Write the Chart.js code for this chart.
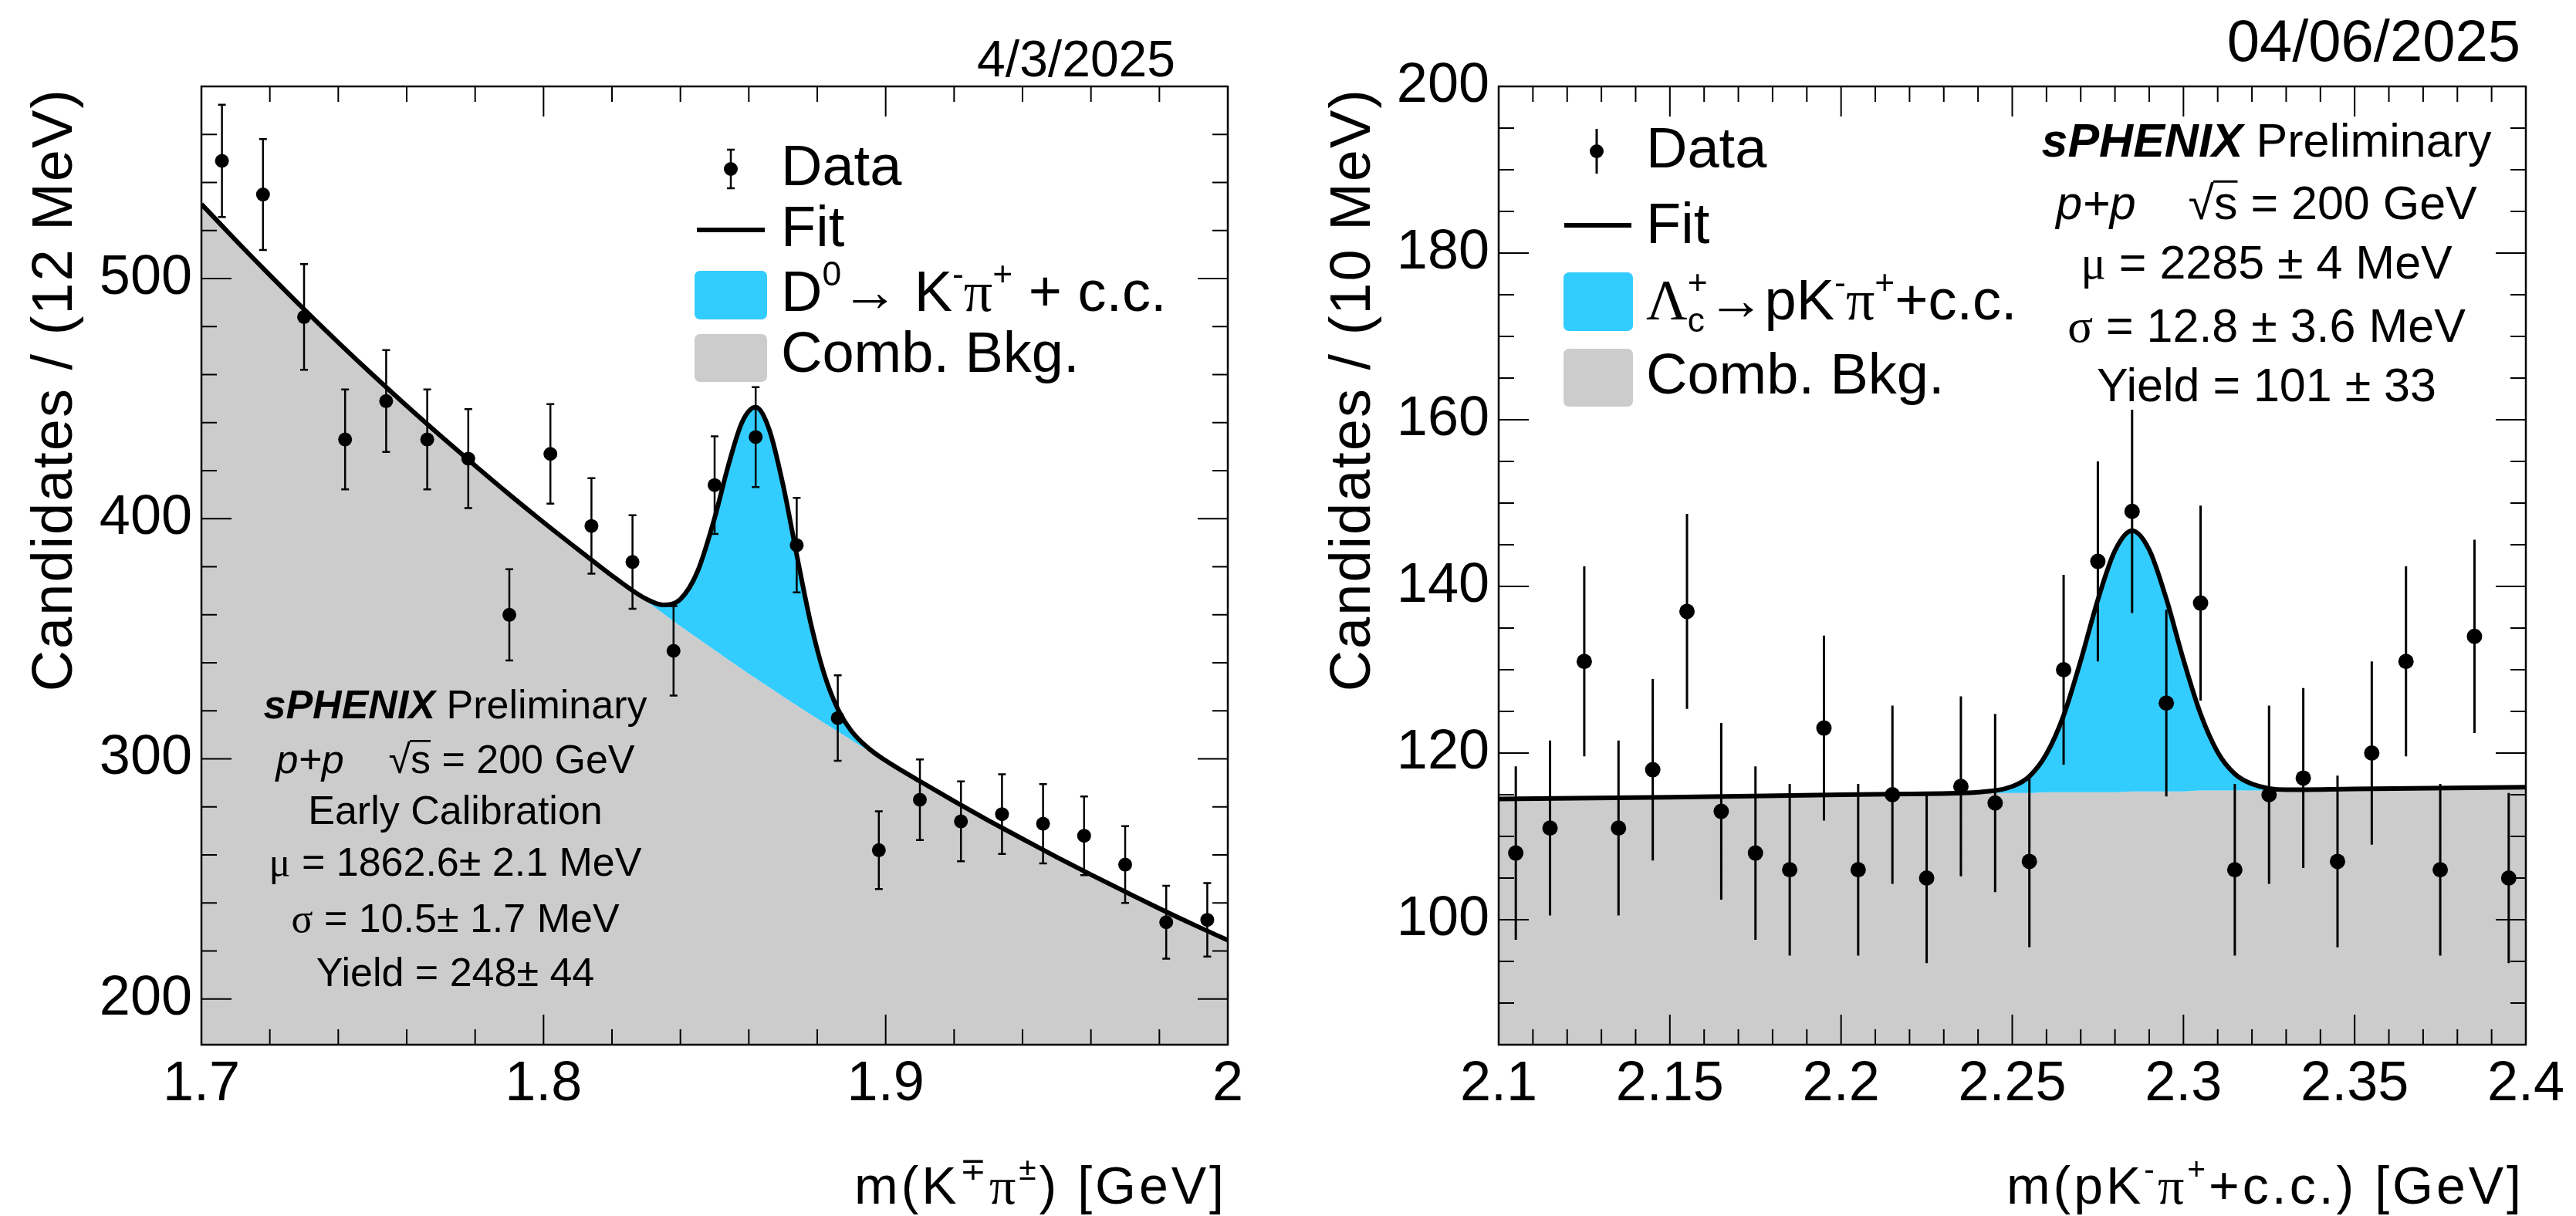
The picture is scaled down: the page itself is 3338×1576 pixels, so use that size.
<!DOCTYPE html>
<html>
<head>
<meta charset="utf-8">
<script src="https://cdn.jsdelivr.net/npm/chart.js@4.4.1/dist/chart.umd.min.js"></script>
<style>
  html, body { margin: 0; padding: 0; background: #fff; }
  #wrap { position: relative; width: 3338px; height: 1576px; overflow: hidden; }
  canvas { position: absolute; top: 0; }
  #left { left: 0; }
  #right { left: 1669px; }
</style>
</head>
<body>
<div id="wrap">
  <canvas id="left" width="1669" height="1576"></canvas>
  <canvas id="right" width="1669" height="1576"></canvas>
</div>
<script>
// ---- D0 panel (left), 12 MeV bins ----
const d0BinCenters = [1.706, 1.718, 1.730, 1.742, 1.754, 1.766, 1.778, 1.790, 1.802, 1.814, 1.826, 1.838, 1.850,
  1.862, 1.874, 1.886, 1.898, 1.910, 1.922, 1.934, 1.946, 1.958, 1.970, 1.982, 1.994];
const d0Counts = [549, 535, 484, 433, 449, 433, 425, 360, 427, 397, 382, 345, 414,
  434, 389, 317, 262, 283, 274, 277, 273, 268, 256, 232, 233];
const d0Errors = [23.4, 23.1, 22.0, 20.8, 21.2, 20.8, 20.6, 19.0, 20.7, 19.9, 19.5, 18.6, 20.3,
  20.8, 19.7, 17.8, 16.2, 16.8, 16.6, 16.6, 16.5, 16.4, 16.0, 15.2, 15.3];
// fit curve
const d0FitX = [1.700, 1.710, 1.720, 1.730, 1.740, 1.750, 1.760, 1.770, 1.780, 1.790, 1.800, 1.810, 1.820,
  1.825, 1.830, 1.835, 1.840, 1.845, 1.850, 1.854, 1.858, 1.862, 1.866, 1.870, 1.874, 1.878, 1.882, 1.886,
  1.890, 1.895, 1.900, 1.910, 1.920, 1.930, 1.940, 1.950, 1.960, 1.970, 1.980, 1.990, 2.000];
const d0FitBkg = [531.0, 516.0, 501.4, 487.2, 473.4, 460.0, 447.0, 434.4, 422.1, 410.1, 398.5, 387.3, 376.3,
  370.9, 365.7, 360.5, 355.3, 350.3, 345.3, 341.3, 337.4, 333.6, 329.8, 326.0, 322.3, 318.6, 315.0, 311.4,
  307.8, 303.4, 299.1, 290.7, 282.4, 274.4, 266.7, 259.1, 251.8, 244.7, 237.7, 231.0, 224.5];
const d0FitTotal = [531.0, 516.0, 501.4, 487.2, 473.4, 460.0, 447.0, 434.4, 422.1, 410.1, 398.5, 387.3, 376.3,
  371.1, 366.6, 364.1, 366.5, 378.0, 400.3, 422.1, 440.1, 446.4, 437.0, 414.1, 385.0, 357.1, 335.5, 320.8,
  311.6, 304.4, 299.3, 290.7, 282.4, 274.4, 266.7, 259.1, 251.8, 244.7, 237.7, 231.0, 224.5];
const d0XLabels = [1.7, 1.8, 1.9, 2.0];
const d0YLabels = [200, 300, 400, 500];

// ---- Lambda_c panel (right), 10 MeV bins ----
const lcBinCenters = [2.105, 2.115, 2.125, 2.135, 2.145, 2.155, 2.165, 2.175, 2.185, 2.195, 2.205, 2.215, 2.225,
  2.235, 2.245, 2.255, 2.265, 2.275, 2.285, 2.295, 2.305, 2.315, 2.325, 2.335, 2.345, 2.355, 2.365, 2.375,
  2.385, 2.395];
const lcCounts = [108, 111, 131, 111, 118, 137, 113, 108, 106, 123, 106, 115, 105,
  116, 114, 107, 130, 143, 149, 126, 138, 106, 115, 117, 107, 120, 131, 106, 134, 105];
const lcErrors = [10.4, 10.5, 11.4, 10.5, 10.9, 11.7, 10.6, 10.4, 10.3, 11.1, 10.3, 10.7, 10.2,
  10.8, 10.7, 10.3, 11.4, 12.0, 12.2, 11.2, 11.7, 10.3, 10.7, 10.8, 10.3, 11.0, 11.4, 10.3, 11.6, 10.2];
const lcFitX = [2.100, 2.150, 2.200, 2.220, 2.240, 2.250, 2.255, 2.260, 2.265, 2.270, 2.275, 2.280, 2.285,
  2.290, 2.295, 2.300, 2.305, 2.310, 2.315, 2.320, 2.330, 2.350, 2.400];
const lcFitBkg = [114.5, 114.7, 115.0, 115.1, 115.2, 115.2, 115.2, 115.3, 115.3, 115.3, 115.3, 115.3, 115.4,
  115.4, 115.4, 115.4, 115.5, 115.5, 115.5, 115.5, 115.6, 115.7, 115.9];
const lcFitTotal = [114.5, 114.7, 115.0, 115.1, 115.3, 116.0, 117.2, 119.9, 124.5, 131.1, 138.4, 144.3, 146.7,
  144.4, 138.5, 131.2, 124.7, 120.1, 117.5, 116.3, 115.6, 115.7, 115.9];
const lcXLabels = [2.1, 2.15, 2.2, 2.25, 2.3, 2.35, 2.4];
const lcYLabels = [100, 120, 140, 160, 180, 200];

const GRAY = '#cccccc';
const BLUE = '#33ccff';
const SANS = '"Liberation Sans", "DejaVu Sans", Arial, sans-serif';
const SERIF = '"Liberation Serif", "DejaVu Serif", serif';

const near = (a, b) => Math.abs(a - b) < 1e-6;
const isIn = (v, arr) => arr.some(m => near(m, v));
const onStep = (v, step) => Math.abs(v / step - Math.round(v / step)) < 1e-6;
const fmt = v => String(Math.round(v * 100) / 100);

// ROOT style frame with inward ticks on all four sides
const rootFrame = {
  id: 'rootFrame',
  afterDatasetsDraw(chart, args, o) {
    const {ctx, chartArea: a} = chart;
    const xs = chart.scales.x, ys = chart.scales.y;
    ctx.save();
    ctx.strokeStyle = '#000';
    ctx.lineWidth = 2;
    ctx.beginPath();
    xs.ticks.forEach(t => {
      if (!onStep(t.value, o.xStep)) return;
      const px = xs.getPixelForValue(t.value);
      const len = isIn(t.value, o.xMajor) ? 39 : 20;
      ctx.moveTo(px, a.bottom); ctx.lineTo(px, a.bottom - len);
      ctx.moveTo(px, a.top); ctx.lineTo(px, a.top + len);
    });
    ys.ticks.forEach(t => {
      if (!onStep(t.value, o.yStep)) return;
      const py = ys.getPixelForValue(t.value);
      const len = isIn(t.value, o.yMajor) ? 39 : 20;
      ctx.moveTo(a.left, py); ctx.lineTo(a.left + len, py);
      ctx.moveTo(a.right, py); ctx.lineTo(a.right - len, py);
    });
    ctx.stroke();
    ctx.lineWidth = 2.5;
    ctx.strokeRect(a.left, a.top, a.right - a.left, a.bottom - a.top);
    ctx.restore();
  }
};

// vertical error bars, drawn just under the data markers
const errorBars = {
  id: 'errorBars',
  beforeDatasetDraw(chart, args, o) {
    const ds = chart.data.datasets[args.index];
    if (!ds.errors) return;
    const {ctx, chartArea: a} = chart;
    const xs = chart.scales.x, ys = chart.scales.y;
    ctx.save();
    ctx.beginPath();
    ctx.rect(a.left, a.top, a.right - a.left, a.bottom - a.top);
    ctx.clip();
    ctx.strokeStyle = '#000';
    ctx.lineWidth = o.width;
    ctx.beginPath();
    ds.data.forEach((p, i) => {
      const px = xs.getPixelForValue(p.x);
      const top = ys.getPixelForValue(p.y + ds.errors[i]);
      const bot = ys.getPixelForValue(p.y - ds.errors[i]);
      ctx.moveTo(px, top); ctx.lineTo(px, bot);
      if (o.cap) {
        ctx.moveTo(px - o.cap, top); ctx.lineTo(px + o.cap, top);
        ctx.moveTo(px - o.cap, bot); ctx.lineTo(px + o.cap, bot);
      }
    });
    ctx.stroke();
    ctx.restore();
  }
};

function fontOf(st, size) {
  const fam = st.includes('g') ? SERIF : SANS;
  return (st.includes('i') ? 'italic ' : '') + (st.includes('b') ? 'bold ' : '') + size + 'px ' + fam;
}

// parts: [text, style]  style: b bold, i italic, g serif, ^ sup, _ sub, ! no advance, o overline
function richLine(ctx, parts, x, y, size, align, spacing) {
  ctx.save();
  ctx.fillStyle = '#000';
  ctx.strokeStyle = '#000';
  ctx.textAlign = 'left';
  ctx.textBaseline = 'alphabetic';
  ctx.letterSpacing = (spacing || 0) + 'px';
  const items = parts.map(([t, st = '']) => {
    const small = st.includes('^') || st.includes('_');
    const s = small ? size * 0.6 : size;
    ctx.font = fontOf(st, s);
    const w = ctx.measureText(t).width;
    const dy = st.includes('^') ? -size * 0.45 : st.includes('_') ? size * 0.22 : 0;
    return {t, st, s, w, dy, adv: st.includes('!') ? 0 : w};
  });
  const total = items.reduce((acc, it) => acc + it.adv, 0);
  let cx = align === 'center' ? x - total / 2 : align === 'right' ? x - total : x;
  items.forEach(it => {
    ctx.font = fontOf(it.st, it.s);
    ctx.fillText(it.t, cx, y + it.dy);
    if (it.st.includes('o')) {
      ctx.lineWidth = size * 0.05;
      ctx.beginPath();
      ctx.moveTo(cx - size * 0.02, y - size * 0.8);
      ctx.lineTo(cx + it.w, y - size * 0.8);
      ctx.stroke();
    }
    cx += it.adv;
  });
  ctx.restore();
}

function yTitle(ctx, str, x, y, size) {
  ctx.save();
  ctx.translate(x, y);
  ctx.rotate(-Math.PI / 2);
  ctx.font = size + 'px ' + SANS;
  ctx.letterSpacing = '2px';
  ctx.fillStyle = '#000';
  ctx.textAlign = 'right';
  ctx.textBaseline = 'alphabetic';
  ctx.fillText(str, 0, 0);
  ctx.restore();
}

function roundBox(ctx, b, color) {
  ctx.fillStyle = color;
  ctx.beginPath();
  ctx.roundRect(b[0], b[1], b[2], b[3], 7);
  ctx.fill();
}

function drawLegend(ctx, L) {
  ctx.save();
  const m = L.marker;
  ctx.strokeStyle = '#000';
  ctx.lineWidth = m.lw;
  ctx.beginPath();
  ctx.moveTo(m.x, m.top); ctx.lineTo(m.x, m.bottom);
  if (m.cap) {
    ctx.moveTo(m.x - m.cap, m.top); ctx.lineTo(m.x + m.cap, m.top);
    ctx.moveTo(m.x - m.cap, m.bottom); ctx.lineTo(m.x + m.cap, m.bottom);
  }
  ctx.stroke();
  ctx.fillStyle = '#000';
  ctx.beginPath();
  ctx.arc(m.x, (m.top + m.bottom) / 2, m.r, 0, Math.PI * 2);
  ctx.fill();
  ctx.lineWidth = 6;
  ctx.beginPath();
  ctx.moveTo(L.line[0], L.line[2]); ctx.lineTo(L.line[1], L.line[2]);
  ctx.stroke();
  roundBox(ctx, L.blue, BLUE);
  roundBox(ctx, L.gray, GRAY);
  ctx.restore();
  L.labels.forEach((parts, i) => richLine(ctx, parts, L.textX, L.rows[i], L.size, 'left'));
}

function makePanel(id, p) {
  return new Chart(document.getElementById(id), {
    type: 'scatter',
    data: {
      datasets: [
        {
          type: 'line', label: 'Comb. Bkg.',
          data: p.fitX.map((x, i) => ({x, y: p.bkg[i]})),
          showLine: true, borderWidth: 1, borderColor: 'rgba(0,0,0,0)', backgroundColor: GRAY,
          fill: 'start', pointRadius: 0, cubicInterpolationMode: 'monotone', order: 3
        },
        {
          type: 'line', label: 'Fit',
          data: p.fitX.map((x, i) => ({x, y: p.total[i]})),
          showLine: true, borderWidth: 6, borderColor: '#000', backgroundColor: BLUE,
          fill: '-1', pointRadius: 0, cubicInterpolationMode: 'monotone', order: 2
        },
        {
          label: 'Data',
          data: p.dataX.map((x, i) => ({x, y: p.dataY[i]})),
          errors: p.dataErr,
          pointRadius: p.dot, pointBackgroundColor: '#000', pointBorderWidth: 0, order: 1
        }
      ]
    },
    options: {
      responsive: false,
      devicePixelRatio: 1,
      animation: false,
      events: [],
      layout: { padding: { top: 112, right: p.padRight, left: 0, bottom: 0 } },
      scales: {
        x: {
          type: 'linear', min: p.xMin, max: p.xMax,
          grid: { display: false, drawTicks: false }, border: { display: false },
          ticks: {
            stepSize: p.xStep, autoSkip: false, includeBounds: false, maxRotation: 0, minRotation: 0,
            padding: 9, color: '#000', font: { family: SANS, size: 72 },
            callback: v => isIn(v, p.xLabels) ? fmt(v) : ''
          },
          afterFit: s => { s.height = 222; }
        },
        y: {
          type: 'linear', min: p.yMin, max: p.yMax,
          grid: { display: false, drawTicks: false }, border: { display: false },
          ticks: {
            stepSize: p.yStep, autoSkip: false, includeBounds: false, padding: 12, color: '#000',
            font: { family: SANS, size: 72 },
            callback: v => isIn(v, p.yLabels) ? fmt(v) : ''
          },
          afterFit: s => { s.width = p.yWidth; }
        }
      },
      plugins: {
        legend: { display: false },
        tooltip: { enabled: false },
        rootFrame: { xStep: p.xStep, xMajor: p.xMajor, yStep: p.yStep, yMajor: p.yLabels },
        errorBars: { width: p.errWidth, cap: p.errCap }
      }
    },
    plugins: [rootFrame, errorBars, { id: 'decor', afterDraw: chart => p.decor(chart.ctx) }]
  });
}

makePanel('left', {
  dataX: d0BinCenters, dataY: d0Counts, dataErr: d0Errors,
  fitX: d0FitX, bkg: d0FitBkg, total: d0FitTotal,
  xMin: 1.7, xMax: 2.0, xStep: 0.02, xLabels: d0XLabels, xMajor: d0XLabels,
  yMin: 181, yMax: 580, yStep: 20, yLabels: d0YLabels,
  yWidth: 261, padRight: 78, dot: 9, errWidth: 2.5, errCap: 5,
  decor(ctx) {
    richLine(ctx, [['4/3/2025']], 1523, 99, 66, 'right');
    yTitle(ctx, 'Candidates / (12 MeV)', 93, 114, 74);
    richLine(ctx, [['m(K'], ['\u2213', '^'], ['\u03c0', 'g'], ['\u00b1', '^'], [') [GeV]']], 1590, 1560, 68, 'right', 4);
    drawLegend(ctx, {
      size: 74, textX: 1012, rows: [240, 319, 403, 482],
      marker: { x: 947, top: 194, bottom: 244, r: 9, cap: 5, lw: 2.5 },
      line: [903, 991, 298],
      blue: [900, 351, 94, 63],
      gray: [900, 433, 94, 62],
      labels: [
        [['Data']],
        [['Fit']],
        [['D'], ['0', '^'], ['\u2192 K'], ['-', '^'], ['\u03c0', 'g'], ['+', '^'], [' + c.c.']],
        [['Comb. Bkg.']]
      ]
    });
    const lines = [
      [['sPHENIX', 'bi'], [' Preliminary']],
      [['p+p', 'i'], ['    '], ['\u221a'], ['s', 'o'], [' = 200 GeV']],
      [['Early Calibration']],
      [['\u03bc', 'g'], [' = 1862.6\u00b1 2.1 MeV']],
      [['\u03c3', 'g'], [' = 10.5\u00b1 1.7 MeV']],
      [['Yield = 248\u00b1 44']]
    ];
    const base = [931, 1002, 1068, 1135, 1208, 1278];
    lines.forEach((l, i) => richLine(ctx, l, 590, base[i], 52, 'center'));
  }
});

makePanel('right', {
  dataX: lcBinCenters, dataY: lcCounts, dataErr: lcErrors,
  fitX: lcFitX, bkg: lcFitBkg, total: lcFitTotal,
  xMin: 2.1, xMax: 2.4, xStep: 0.01, xLabels: lcXLabels, xMajor: lcXLabels,
  yMin: 85, yMax: 200, yStep: 5, yLabels: lcYLabels,
  yWidth: 273, padRight: 65, dot: 10, errWidth: 3, errCap: 0,
  decor(ctx) {
    richLine(ctx, [['04/06/2025']], 1597, 79, 76, 'right');
    yTitle(ctx, 'Candidates / (10 MeV)', 106, 114, 74);
    richLine(ctx, [['m(pK'], ['-', '^'], ['\u03c0', 'g'], ['+', '^'], ['+c.c.) [GeV]']], 1602, 1560, 68, 'right', 4);
    drawLegend(ctx, {
      size: 74, textX: 464, rows: [217, 315, 414, 510],
      marker: { x: 400, top: 167, bottom: 225, r: 9, cap: 0, lw: 3 },
      line: [358, 445, 292],
      blue: [357, 353, 90, 76],
      gray: [357, 452, 90, 75],
      labels: [
        [['Data']],
        [['Fit']],
        [['\u039b', 'g'], ['c', '_!'], ['+', '^'], ['\u2192pK'], ['-', '^'], ['\u03c0', 'g'], ['+', '^'], ['+c.c.']],
        [['Comb. Bkg.']]
      ]
    });
    const lines = [
      [['sPHENIX', 'bi'], [' Preliminary']],
      [['p+p', 'i'], ['    '], ['\u221a'], ['s', 'o'], [' = 200 GeV']],
      [['\u03bc', 'g'], [' = 2285 \u00b1 4 MeV']],
      [['\u03c3', 'g'], [' = 12.8 \u00b1 3.6 MeV']],
      [['Yield = 101 \u00b1 33']]
    ];
    const base = [203, 284, 361, 443, 520];
    lines.forEach((l, i) => richLine(ctx, l, 1268, base[i], 61, 'center'));
  }
});
</script>
</body>
</html>
